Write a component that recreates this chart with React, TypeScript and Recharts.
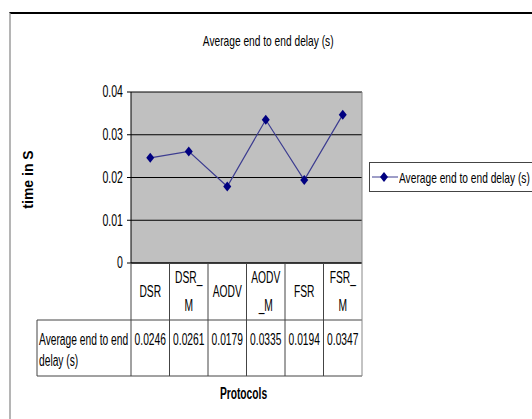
import React from "react";
import {
  LineChart,
  Line,
  XAxis,
  YAxis,
  CartesianGrid,
  Legend,
} from "recharts";

const protocols = ["DSR", "DSR_M", "AODV", "AODV_M", "FSR", "FSR_M"];
const delays = [0.0246, 0.0261, 0.0179, 0.0335, 0.0194, 0.0347];
const yTicks = [0, 0.01, 0.02, 0.03, 0.04];
const seriesName = "Average end to end delay (s)";
const rowLabel = ["Average end to end", "delay (s)"];

const data = protocols.map((p, i) => ({ protocol: p, delay: delays[i] }));

// layout (px)
const W = 532;
const H = 419;
const PLOT_LEFT = 131;
const PLOT_TOP = 92;
const PLOT_RIGHT = 362;
const PLOT_BOTTOM = 263;
const ROW_SPLIT = 320;
const TABLE_BOTTOM = 376;
const TABLE_LEFT = 37;

// no narrow font installed -> squeeze Liberation Sans horizontally
const FONT = "'Liberation Sans', Arial, sans-serif";
const SX = 0.64;
const SX_HTML = 0.68;
const LINE_COLOR = "#3c3c90";
const DOT_COLOR = "#000080";
const TABLE_STROKE = "#444";

// excel wraps the header cells every 4 chars
const wrap = (s: string) => {
  if (s.length <= 4) return [s];
  const out: string[] = [];
  for (let i = 0; i < s.length; i += 4) out.push(s.slice(i, i + 4));
  return out;
};

const NText = ({ x, y, anchor = "middle", size = 16, sx = SX, bold = false, children }: any) => (
  <text
    x={0}
    y={0}
    transform={`translate(${x},${y}) scale(${sx},1)`}
    textAnchor={anchor}
    dominantBaseline="central"
    fontFamily={FONT}
    fontSize={size}
    fontWeight={bold ? "bold" : "normal"}
    fill="#000"
  >
    {children}
  </text>
);

const Diamond = (props: any) => {
  const { cx, cy } = props;
  if (cx == null || cy == null) return null;
  return (
    <polygon
      points={`${cx},${cy - 5} ${cx + 4},${cy} ${cx},${cy + 5} ${cx - 4},${cy}`}
      fill={DOT_COLOR}
    />
  );
};

const YTick = (props: any) => {
  const { x, y, payload } = props;
  return (
    <NText x={x} y={y} anchor="end" size={16} sx={0.66}>
      {payload.value}
    </NText>
  );
};

const TableTick = (props: any) => {
  const { x, y, payload, index } = props;
  const colW = (PLOT_RIGHT - PLOT_LEFT) / protocols.length;
  const left = x - colW / 2;
  const right = x + colW / 2;
  const lines = wrap(String(payload.value));
  const last = index === protocols.length - 1;

  return (
    <g>
      <line x1={left} x2={left} y1={y} y2={TABLE_BOTTOM} stroke={TABLE_STROKE} />
      {last && (
        <line x1={right} x2={right} y1={PLOT_TOP} y2={TABLE_BOTTOM} stroke="#888" />
      )}
      {lines.length === 1 ? (
        <NText x={x} y={y + 29}>{lines[0]}</NText>
      ) : (
        lines.map((l, k) => (
          <NText key={k} x={x} y={y + 15 + k * 28}>
            {l}
          </NText>
        ))
      )}
      <NText x={x} y={y + 77}>{delays[index]}</NText>
      {index === 0 && (
        <g>
          <line x1={TABLE_LEFT} x2={PLOT_RIGHT} y1={ROW_SPLIT} y2={ROW_SPLIT} stroke={TABLE_STROKE} />
          <line x1={TABLE_LEFT} x2={PLOT_RIGHT} y1={TABLE_BOTTOM} y2={TABLE_BOTTOM} stroke={TABLE_STROKE} />
          <line x1={TABLE_LEFT} x2={TABLE_LEFT} y1={ROW_SPLIT} y2={TABLE_BOTTOM} stroke={TABLE_STROKE} />
          {rowLabel.map((l, k) => (
            <NText key={k} x={TABLE_LEFT + 2} y={y + 77 + k * 21} anchor="start">
              {l}
            </NText>
          ))}
        </g>
      )}
    </g>
  );
};

const LegendBox = () => (
  <div
    style={{
      border: "1px solid #444",
      height: 28,
      width: 200,
      display: "flex",
      alignItems: "center",
      background: "#fff",
      whiteSpace: "nowrap",
      paddingLeft: 2,
      fontFamily: FONT,
      fontSize: 15,
      color: "#000",
    }}
  >
    <svg width={26} height={12} style={{ marginRight: 1, flex: "none" }}>
      <line x1={0} x2={26} y1={6} y2={6} stroke={LINE_COLOR} />
      <polygon points="12,1 16,6 12,11 8,6" fill={DOT_COLOR} />
    </svg>
    <span style={{ display: "inline-block", transform: `scaleX(${SX_HTML})`, transformOrigin: "left center" }}>
      {seriesName}
    </span>
  </div>
);

export default function App() {
  return (
    <div
      style={{
        position: "absolute",
        left: 0,
        top: 0,
        width: W,
        height: H,
        overflow: "hidden",
        background: "#fff",
      }}
    >
      <div
        style={{
          position: "absolute",
          left: 9,
          top: 12,
          width: W,
          height: H,
          borderTop: "2px solid #000",
          borderLeft: "2px solid #b5b5b5",
        }}
      />
      <div
        style={{
          position: "absolute",
          left: 0,
          top: 32,
          width: 536,
          textAlign: "center",
          fontFamily: FONT,
          fontSize: 15,
          color: "#000",
        }}
      >
        <span style={{ display: "inline-block", transform: `scaleX(${SX_HTML})` }}>{seriesName}</span>
      </div>
      <LineChart
        width={W}
        height={H}
        data={data}
        margin={{ top: PLOT_TOP, right: W - PLOT_RIGHT, bottom: 0, left: 0 }}
        style={{ fontFamily: FONT }}
      >
        <CartesianGrid fill="#c0c0c0" stroke="#000" vertical={false} />
        <XAxis
          dataKey="protocol"
          type="category"
          scale="band"
          interval={0}
          height={H - PLOT_BOTTOM}
          tickLine={false}
          tickSize={0}
          tickMargin={0}
          axisLine={{ stroke: "#000" }}
          tick={<TableTick />}
          label={{
            content: (p: any) => {
              const vb = p.viewBox || { x: PLOT_LEFT, width: PLOT_RIGHT - PLOT_LEFT };
              return (
                <NText x={vb.x + vb.width / 2 - 3} y={394} size={16} bold>
                  Protocols
                </NText>
              );
            },
          }}
        />
        <YAxis
          type="number"
          domain={[0, 0.04]}
          ticks={yTicks}
          width={PLOT_LEFT}
          tickSize={4}
          tickMargin={4}
          axisLine={{ stroke: "#000" }}
          tickLine={{ stroke: "#000" }}
          tick={<YTick />}
          label={{
            content: (p: any) => {
              const vb = p.viewBox || { x: 0, y: PLOT_TOP, height: PLOT_BOTTOM - PLOT_TOP };
              const cx = vb.x + 28;
              const cy = vb.y + vb.height / 2 + 2;
              return (
                <text
                  x={cx}
                  y={cy}
                  transform={`rotate(-90, ${cx}, ${cy})`}
                  textAnchor="middle"
                  dominantBaseline="central"
                  fontFamily={FONT}
                  fontWeight="bold"
                  fontSize={14}
                  fill="#000"
                >
                  time in S
                </text>
              );
            },
          }}
        />
        <Legend
          layout="horizontal"
          verticalAlign="middle"
          align="center"
          wrapperStyle={{ left: 369, top: 162, width: "auto" }}
          content={() => <LegendBox />}
        />
        <Line
          type="linear"
          dataKey="delay"
          name={seriesName}
          stroke={LINE_COLOR}
          strokeWidth={1.2}
          dot={<Diamond />}
          activeDot={false}
          isAnimationActive={false}
        />
      </LineChart>
    </div>
  );
}
